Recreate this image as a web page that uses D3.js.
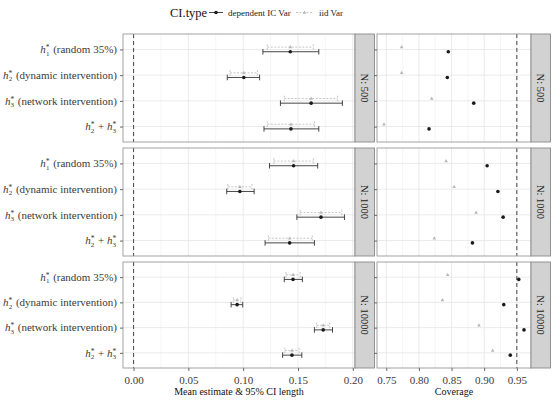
<!DOCTYPE html>
<html>
<head>
<meta charset="utf-8">
<script src="https://cdn.jsdelivr.net/npm/d3@7"></script>
<style>
  body { margin: 0; background: #fff; }
  svg text { font-family: "Liberation Serif", "DejaVu Serif", serif; }
</style>
</head>
<body>
<div id="chart"></div>
<script>
// data
var estimands = ["h_1^* (random 35%)", "h_2^* (dynamic intervention)", "h_3^* (network intervention)", "h_2^* + h_3^*"];
var sampleSizes = [500, 1000, 10000];
var ciTypes = ["dependent IC Var", "iid Var"];

// mean estimate (same for both CI types), rows = N
var meanEst = [
  [0.143, 0.1006, 0.162, 0.1436],
  [0.146, 0.097, 0.171, 0.1424],
  [0.1455, 0.0945, 0.173, 0.1445]
];
var depLo = [
  [0.118, 0.0855, 0.134, 0.119],
  [0.124, 0.085, 0.149, 0.120],
  [0.1375, 0.089, 0.165, 0.136]
];
var depHi = [
  [0.169, 0.115, 0.1905, 0.169],
  [0.168, 0.110, 0.1924, 0.165],
  [0.154, 0.0996, 0.1815, 0.1535]
];
var iidLo = [
  [0.122, 0.088, 0.1375, 0.122],
  [0.128, 0.086, 0.152, 0.123],
  [0.139, 0.091, 0.167, 0.138]
];
var iidHi = [
  [0.164, 0.113, 0.186, 0.165],
  [0.164, 0.108, 0.190, 0.163],
  [0.152, 0.098, 0.179, 0.151]
];
var depCoverage = [
  [0.845, 0.8435, 0.884, 0.8155],
  [0.9045, 0.921, 0.929, 0.882],
  [0.953, 0.930, 0.961, 0.940]
];
var iidCoverage = [
  [0.7735, 0.7735, 0.8196, 0.7465],
  [0.8416, 0.854, 0.8876, 0.8236],
  [0.844, 0.836, 0.892, 0.913]
];
var leftTicks = [0, 0.05, 0.10, 0.15, 0.20];
var rightTicks = [0.75, 0.80, 0.85, 0.90, 0.95];
var refEstimate = 0;
var refCoverage = 0.95;

var svgWidth = 560, svgHeight = 401;
var darkCol = "#1a1a1a", lightCol = "#b8b8b8";
var serif = "'Liberation Serif', 'DejaVu Serif', serif";

var svg = d3.select("#chart").append("svg")
  .attr("width", svgWidth)
  .attr("height", svgHeight)
  .attr("font-family", serif);

// ggplot-like 5% expansion
function expand(ext) {
  var d = (ext[1] - ext[0]) * 0.05;
  return [ext[0] - d, ext[1] + d];
}
var allLeft = d3.merge([d3.merge(depLo), d3.merge(depHi), d3.merge(iidLo), d3.merge(iidHi), [refEstimate]]);
var allRight = d3.merge([d3.merge(depCoverage), d3.merge(iidCoverage), [refCoverage]]);

var xLeft = d3.scaleLinear().domain(expand(d3.extent(allLeft))).range([123, 355]);
var xRight = d3.scaleLinear().domain(expand(d3.extent(allRight))).range([377, 531]);

var rows = [[34, 142], [148, 256], [262, 368]];
var stripW = 19.5;

function minorTicks(scale, major) {
  var step = major[1] - major[0];
  var out = [];
  var dom = scale.domain();
  for (var v = major[0] - step / 2; v <= dom[1]; v += step) {
    if (v >= dom[0]) out.push(v);
  }
  return out;
}

// label with stacked sub/superscript
function drawLabel(sel, label) {
  var parts = label.split(/(h_\d\^\*)/).filter(function(s) { return s.length; });
  parts.forEach(function(p) {
    var m = p.match(/h_(\d)\^\*/);
    if (m) {
      sel.append("tspan").attr("font-style", "italic").text("h");
      sel.append("tspan").attr("font-size", 7.5).attr("dy", -3).text("*");
      sel.append("tspan").attr("font-size", 7).attr("dx", -3.6).attr("dy", 5.5).text(m[1]);
      sel.append("tspan").attr("dy", -2.5).text("\u200a");
    } else {
      sel.append("tspan").text(p.replace(/ /g, "\u00a0"));
    }
  });
}

function drawPanel(g, x, y, top, bottom, majors) {
  var x0 = x.range()[0], x1 = x.range()[1];
  g.selectAll(".minor").data(minorTicks(x, majors)).enter().append("line")
    .attr("x1", d => x(d)).attr("x2", d => x(d))
    .attr("y1", top).attr("y2", bottom)
    .attr("stroke", "#f0f0f0").attr("stroke-width", 0.6);
  g.selectAll(".major").data(majors).enter().append("line")
    .attr("x1", d => x(d)).attr("x2", d => x(d))
    .attr("y1", top).attr("y2", bottom)
    .attr("stroke", "#e4e4e4").attr("stroke-width", 0.8);
  g.selectAll(".hgrid").data(estimands).enter().append("line")
    .attr("x1", x0).attr("x2", x1)
    .attr("y1", d => y(d)).attr("y2", d => y(d))
    .attr("stroke", "#e4e4e4").attr("stroke-width", 0.8);
}

function triangle(cx, cy, s) {
  return "M" + cx + "," + (cy - s) + "L" + (cx + s * 0.9) + "," + (cy + s * 0.6) + "L" + (cx - s * 0.9) + "," + (cy + s * 0.6) + "Z";
}

sampleSizes.forEach(function(n, i) {
  var top = rows[i][0], bottom = rows[i][1];
  var y = d3.scalePoint().domain(estimands).range([top, bottom]).padding(0.6);
  var dodge = y.step() * 0.09;
  var cap = 2.8;

  // left panel
  var gl = svg.append("g");
  drawPanel(gl, xLeft, y, top, bottom, leftTicks);

  gl.append("line")
    .attr("x1", xLeft(refEstimate)).attr("x2", xLeft(refEstimate))
    .attr("y1", top).attr("y2", bottom)
    .attr("stroke", "#555").attr("stroke-width", 1.1).attr("stroke-dasharray", "4,3");

  estimands.forEach(function(e, j) {
    // iid (grey, dashed, above)
    var yi = y(e) - dodge;
    gl.append("path")
      .attr("d", "M" + xLeft(iidLo[i][j]) + "," + (yi - cap) + "V" + (yi + cap) +
        "M" + xLeft(iidLo[i][j]) + "," + yi + "H" + xLeft(iidHi[i][j]) +
        "M" + xLeft(iidHi[i][j]) + "," + (yi - cap) + "V" + (yi + cap))
      .attr("fill", "none").attr("stroke", lightCol).attr("stroke-width", 0.8)
      .attr("stroke-dasharray", "2,1.5");
    gl.append("path").attr("d", triangle(xLeft(meanEst[i][j]), yi, 2)).attr("fill", lightCol);

    // dependent (black, below)
    var yd = y(e) + dodge;
    gl.append("path")
      .attr("d", "M" + xLeft(depLo[i][j]) + "," + (yd - cap) + "V" + (yd + cap) +
        "M" + xLeft(depLo[i][j]) + "," + yd + "H" + xLeft(depHi[i][j]) +
        "M" + xLeft(depHi[i][j]) + "," + (yd - cap) + "V" + (yd + cap))
      .attr("fill", "none").attr("stroke", "#333").attr("stroke-width", 0.9);
    gl.append("circle").attr("cx", xLeft(meanEst[i][j])).attr("cy", yd).attr("r", 1.8).attr("fill", darkCol);
  });

  gl.append("rect").attr("x", xLeft.range()[0]).attr("y", top)
    .attr("width", xLeft.range()[1] - xLeft.range()[0]).attr("height", bottom - top)
    .attr("fill", "none").attr("stroke", "#999").attr("stroke-width", 0.9);

  // y axis ticks + labels
  var yAxis = gl.append("g").attr("transform", "translate(" + xLeft.range()[0] + ",0)")
    .call(d3.axisLeft(y).tickSize(3).tickFormat(""));
  yAxis.select(".domain").remove();
  yAxis.selectAll(".tick line").attr("stroke", "#666");

  estimands.forEach(function(e) {
    var t = gl.append("text").attr("x", 117).attr("y", y(e) + 3.8)
      .attr("text-anchor", "end").attr("font-size", 11).attr("fill", "#3a3a3a");
    drawLabel(t, e);
  });

  // strip for left panel
  var sx = xLeft.range()[1];
  gl.append("rect").attr("x", sx).attr("y", top).attr("width", stripW).attr("height", bottom - top)
    .attr("fill", "#d2d2d2").attr("stroke", "#8a8a8a").attr("stroke-width", 0.9);
  gl.append("text")
    .attr("transform", "translate(" + (sx + stripW / 2) + "," + ((top + bottom) / 2) + ") rotate(90)")
    .attr("text-anchor", "middle").attr("dy", "0.35em")
    .attr("font-size", 10.5).attr("fill", "#222").text("N: " + n);

  // right panel
  var gr = svg.append("g");
  drawPanel(gr, xRight, y, top, bottom, rightTicks);
  gr.append("line")
    .attr("x1", xRight(refCoverage)).attr("x2", xRight(refCoverage))
    .attr("y1", top).attr("y2", bottom)
    .attr("stroke", "#555").attr("stroke-width", 1.1).attr("stroke-dasharray", "4,3");

  estimands.forEach(function(e, j) {
    gr.append("path").attr("d", triangle(xRight(iidCoverage[i][j]), y(e) - dodge, 2)).attr("fill", lightCol);
    gr.append("circle").attr("cx", xRight(depCoverage[i][j])).attr("cy", y(e) + dodge).attr("r", 1.8).attr("fill", darkCol);
  });

  gr.append("rect").attr("x", xRight.range()[0]).attr("y", top)
    .attr("width", xRight.range()[1] - xRight.range()[0]).attr("height", bottom - top)
    .attr("fill", "none").attr("stroke", "#999").attr("stroke-width", 0.9);

  var yAxisR = gr.append("g").attr("transform", "translate(" + xRight.range()[0] + ",0)")
    .call(d3.axisLeft(y).tickSize(3).tickFormat(""));
  yAxisR.select(".domain").remove();
  yAxisR.selectAll(".tick line").attr("stroke", "#666");

  var sx2 = xRight.range()[1];
  gr.append("rect").attr("x", sx2).attr("y", top).attr("width", stripW).attr("height", bottom - top)
    .attr("fill", "#d2d2d2").attr("stroke", "#8a8a8a").attr("stroke-width", 0.9);
  gr.append("text")
    .attr("transform", "translate(" + (sx2 + stripW / 2) + "," + ((top + bottom) / 2) + ") rotate(90)")
    .attr("text-anchor", "middle").attr("dy", "0.35em")
    .attr("font-size", 10.5).attr("fill", "#222").text("N: " + n);

  // bottom axes on last row
  if (i === sampleSizes.length - 1) {
    var bl = svg.append("g").attr("transform", "translate(0," + bottom + ")")
      .call(d3.axisBottom(xLeft).tickValues(leftTicks).tickSize(3).tickFormat(d3.format(".2f")));
    var br = svg.append("g").attr("transform", "translate(0," + bottom + ")")
      .call(d3.axisBottom(xRight).tickValues(rightTicks).tickSize(3).tickFormat(d3.format(".2f")));
    [bl, br].forEach(function(a) {
      a.attr("font-family", serif);
      a.select(".domain").remove();
      a.selectAll(".tick line").attr("stroke", "#666");
      a.selectAll(".tick text").attr("font-size", 11).attr("fill", "#3a3a3a").attr("dy", "0.95em");
    });
  }
});

// axis titles
svg.append("text").attr("x", (xLeft.range()[0] + xLeft.range()[1]) / 2).attr("y", 395)
  .attr("text-anchor", "middle").attr("font-size", 10).attr("fill", "#111")
  .text("Mean estimate & 95% CI length");
svg.append("text").attr("x", (xRight.range()[0] + xRight.range()[1]) / 2).attr("y", 395)
  .attr("text-anchor", "middle").attr("font-size", 10).attr("fill", "#111")
  .text("Coverage");

// legend
var leg = svg.append("g");
leg.append("text").attr("x", 170).attr("y", 16.5).attr("font-size", 12.5).attr("fill", "#111").text("CI.type");
leg.append("line").attr("x1", 209).attr("x2", 223).attr("y1", 12.5).attr("y2", 12.5)
  .attr("stroke", "#333").attr("stroke-width", 0.9);
leg.append("circle").attr("cx", 216).attr("cy", 12.5).attr("r", 1.8).attr("fill", darkCol);
leg.append("text").attr("x", 228).attr("y", 15.5).attr("font-size", 9).attr("fill", "#222").text(ciTypes[0]);
leg.append("line").attr("x1", 296).attr("x2", 313).attr("y1", 12.5).attr("y2", 12.5)
  .attr("stroke", lightCol).attr("stroke-width", 0.8).attr("stroke-dasharray", "2,1.5");
leg.append("path").attr("d", triangle(304.5, 12.5, 2)).attr("fill", lightCol);
leg.append("text").attr("x", 319).attr("y", 15.5).attr("font-size", 9).attr("fill", "#222").text(ciTypes[1]);
</script>
</body>
</html>
